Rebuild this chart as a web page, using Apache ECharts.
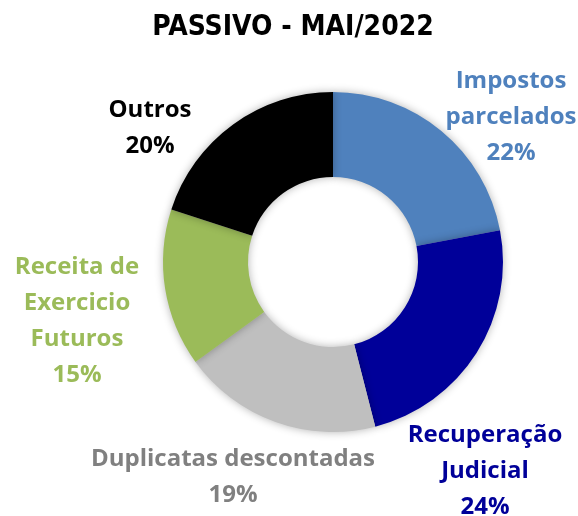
<!DOCTYPE html>
<html>
<head>
<meta charset="utf-8">
<script src="https://cdn.jsdelivr.net/npm/echarts@6/dist/echarts.min.js"></script>
<style>
  html, body { margin: 0; padding: 0; background: #fff; }
  #chart { width: 578px; height: 516px; }
</style>
</head>
<body>
<div id="chart"></div>
<script>
// data
const categories = ['Impostos\nparcelados', 'Recuperação\nJudicial', 'Duplicatas descontadas', 'Receita de\nExercicio\nFuturos', 'Outros'];
const values = [22, 24, 19, 15, 20];
const colors = ['#4F81BD', '#000099', '#BFBFBF', '#9BBB59', '#000000'];
const labelColors = ['#4F81BD', '#000099', '#808080', '#9BBB59', '#000000'];

// manual label spots (like the moved labels in the original)
const labelSpots = [[511, 117], [485, 471], [233, 477], [77, 321], [150, 128]];

const chart = echarts.init(document.getElementById('chart'));

const option = {
  animation: false,
  title: {
    text: 'PASSIVO - MAI/2022',
    left: 288,
    top: 9,
    textAlign: 'center',
    textStyle: {
      fontFamily: 'DejaVu Sans Condensed',
      fontWeight: 'bold',
      fontSize: 28,
      color: '#000'
    }
  },
  series: [
    {
      type: 'pie',
      center: [333, 262],
      radius: [85, 170],
      startAngle: 90,
      clockwise: true,
      itemStyle: {
        shadowBlur: 8,
        shadowColor: 'rgba(0,0,0,0.3)'
      },
      label: {
        show: true,
        position: 'outside',
        formatter: '{b}\n{c}%',
        fontFamily: 'Open Sans',
        fontWeight: 'bold',
        fontSize: 24,
        lineHeight: 36,
        align: 'center',
        overflow: 'none'
      },
      labelLine: { show: false },
      labelLayout: function (params) {
        const p = labelSpots[params.dataIndex];
        return { x: p[0], y: p[1], align: 'center', verticalAlign: 'middle' };
      },
      data: categories.map((name, i) => ({
        name: name,
        value: values[i],
        itemStyle: { color: colors[i] },
        label: { color: labelColors[i] }
      }))
    }
  ]
};

chart.setOption(option);
</script>
</body>
</html>
